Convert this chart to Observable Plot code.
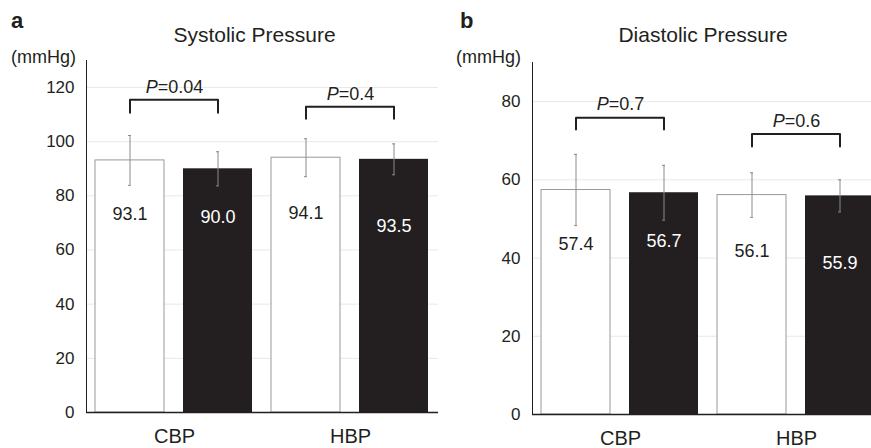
<!DOCTYPE html>
<html><head><meta charset="utf-8">
<script src="https://cdn.jsdelivr.net/npm/d3@7"></script>
<script src="https://cdn.jsdelivr.net/npm/@observablehq/plot@0.6"></script>
<style>
body{margin:0;background:#fff;}
#wrap{position:relative;width:871px;height:448px;overflow:hidden;font-family:"Liberation Sans",Arial,sans-serif;color:#231f20;}
.panel{position:absolute;top:0;width:440px;height:448px;}
.panel svg{max-width:none !important;}
.lbl{position:absolute;line-height:1;white-space:nowrap;}
[aria-label="fx-axis tick label"] text{font-size:20px;}
</style></head><body>
<div id="wrap"></div>
<script>
const groups = ["CBP", "HBP"];
const kinds = ["open", "filled"];
const sysMean = [93.1, 90.0, 94.1, 93.5];
const sysSD = [9.2, 6.3, 7.0, 5.7];
const diaMean = [57.4, 56.7, 56.1, 55.9];
const diaSD = [9.1, 7.0, 5.7, 4.1];
const sysP = ["P=0.04", "P=0.4"];
const diaP = ["P=0.7", "P=0.6"];
const sysBracketTop = [115.5, 112.9];
const sysBracketLeg = [110.7, 108.5];
const diaBracketTop = [75.9, 71.7];
const diaBracketLeg = [72.9, 68.5];
const sysTicks = [0, 20, 40, 60, 80, 100, 120];
const diaTicks = [0, 20, 40, 60, 80];

const INK = "#231f20";
const FONT = "Liberation Sans, Arial, sans-serif";
const labelDy = [54, 48, 56, 67];

function rowsOf(means, sds) {
  const rows = [];
  groups.forEach((g, gi) => kinds.forEach((k, ki) => {
    const i = gi * 2 + ki;
    rows.push({group: g, kind: k, mean: means[i], sd: sds[i], i, label: means[i].toFixed(1)});
  }));
  return rows;
}
function bracketsOf(tops, legs) {
  const pts = [];
  groups.forEach((g, gi) => {
    pts.push({group: g, kind: kinds[0], y: legs[gi]});
    pts.push({group: g, kind: kinds[0], y: tops[gi]});
    pts.push({group: g, kind: kinds[1], y: tops[gi]});
    pts.push({group: g, kind: kinds[1], y: legs[gi]});
  });
  return pts;
}

function panel({means, sds, pvals, tops, legs, ticks, ymax, marginTop, marginBottom}) {
  const rows = rowsOf(means, sds);
  const pv = groups.map((g, gi) => ({group: g, top: tops[gi], p: pvals[gi]}));
  const marks = [
    Plot.barY(rows, {filter: d => d.kind === "open", fx: "group", x: "kind", y: "mean", fill: "white", stroke: "#999", strokeWidth: 1}),
    Plot.barY(rows, {filter: d => d.kind === "filled", fx: "group", x: "kind", y: "mean", fill: INK}),
    Plot.ruleX(rows, {fx: "group", x: "kind", y1: d => d.mean - d.sd, y2: d => d.mean + d.sd, stroke: "#8a8a8a"}),
    Plot.tickY(rows, {fx: "group", x: "kind", y: d => d.mean - d.sd, stroke: "#8a8a8a", inset: 33}),
    Plot.tickY(rows, {fx: "group", x: "kind", y: d => d.mean + d.sd, stroke: "#8a8a8a", inset: 33}),
    Plot.ruleY([0], {stroke: INK, strokeWidth: 1.5}),
    Plot.line(bracketsOf(tops, legs), {fx: "group", x: "kind", y: "y", z: "group", stroke: INK, strokeWidth: 2}),
    Plot.text(pv, {fx: "group", y: "top", text: "p", dy: -13, frameAnchor: "middle", fontSize: 18, fill: INK})
  ];
  for (let k = 0; k < 4; k++) {
    marks.push(Plot.text(rows, {filter: d => d.i === k, fx: "group", x: "kind", y: "mean", text: "label", dy: labelDy[k], fontSize: 18, fill: k % 2 ? "white" : INK}));
  }
  const svg = Plot.plot({
    width: 440, height: 448,
    marginLeft: 85, marginRight: 2, marginTop, marginBottom,
    style: {fontSize: "17px", fontFamily: FONT, color: INK, background: "transparent", maxWidth: "none"},
    fx: {domain: groups, padding: 0, label: null, tickSize: 0, tickPadding: 16},
    x: {domain: kinds, paddingInner: 0.213, paddingOuter: 0.1, axis: null},
    y: {domain: [0, ymax], ticks, tickSize: 0, tickPadding: 12, line: true, grid: true, label: null},
    marks
  });
  d3.select(svg).selectAll("text").each(function() {
    const t = this.textContent;
    if (t.startsWith("P=")) {
      this.textContent = "";
      d3.select(this).append("tspan").attr("font-style", "italic").text("P");
      d3.select(this).append("tspan").text(t.slice(1));
    }
  });
  return svg;
}

const wrap = document.getElementById("wrap");
function addPanel(left, svg) {
  const d = document.createElement("div");
  d.className = "panel"; d.style.left = left + "px";
  d.appendChild(svg); wrap.appendChild(d);
}
function addLabel(text, left, top, size, extra = {}) {
  const d = document.createElement("div");
  d.className = "lbl"; d.textContent = text;
  d.style.left = left + "px"; d.style.top = top + "px"; d.style.fontSize = size + "px";
  Object.assign(d.style, extra);
  wrap.appendChild(d);
}

addPanel(0, panel({means: sysMean, sds: sysSD, pvals: sysP, tops: sysBracketTop, legs: sysBracketLeg, ticks: sysTicks, ymax: 130, marginTop: 60, marginBottom: 36}));
addPanel(446, panel({means: diaMean, sds: diaSD, pvals: diaP, tops: diaBracketTop, legs: diaBracketLeg, ticks: diaTicks, ymax: 90, marginTop: 62, marginBottom: 34}));

addLabel("a", 11, 10, 22, {fontWeight: "bold"});
addLabel("b", 460, 10, 22, {fontWeight: "bold"});
addLabel("(mmHg)", 11, 48, 18);
addLabel("(mmHg)", 456, 48, 18);
addLabel("Systolic Pressure", 254.5, 24, 21, {transform: "translateX(-50%)"});
addLabel("Diastolic Pressure", 703, 24, 21, {transform: "translateX(-50%)"});
</script>
</body></html>
